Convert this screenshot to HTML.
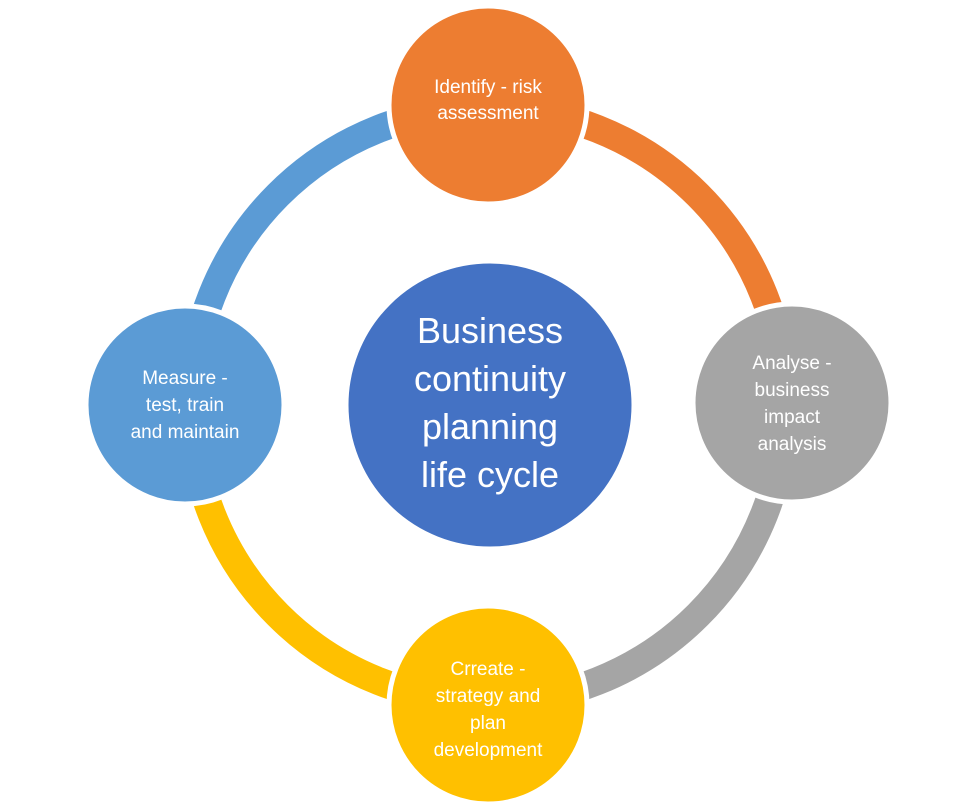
<!DOCTYPE html>
<html><head><meta charset="utf-8"><style>
html,body{margin:0;padding:0;background:#fff;}
svg{display:block}
text{font-family:"Liberation Sans",sans-serif;fill:#fff;text-anchor:middle}
</style></head><body>
<svg width="977" height="810" viewBox="0 0 977 810">
<g fill="none" stroke-width="28">
<path d="M488 108 A297 297 0 0 1 785 405" stroke="#ED7D31"/>
<path d="M785 405 A297 297 0 0 1 488 702" stroke="#A5A5A5"/>
<path d="M488 702 A297 297 0 0 1 191 405" stroke="#FFC000"/>
<path d="M191 405 A297 297 0 0 1 488 108" stroke="#5B9BD5"/>
</g>
<g stroke="#fff" stroke-width="5">
<circle cx="488" cy="105" r="99" fill="#ED7D31"/>
<circle cx="792" cy="403" r="99" fill="#A5A5A5"/>
<circle cx="488" cy="705" r="99" fill="#FFC000"/>
<circle cx="185" cy="405" r="99" fill="#5B9BD5"/>
<circle cx="490" cy="405" r="144" fill="#4472C4"/>
</g>
<g font-size="19">
<text x="488" y="93">Identify - risk</text>
<text x="488" y="119">assessment</text>
<text x="792" y="369">Analyse -</text>
<text x="792" y="396">business</text>
<text x="792" y="423">impact</text>
<text x="792" y="450">analysis</text>
<text x="488" y="675">Crreate -</text>
<text x="488" y="702">strategy and</text>
<text x="488" y="729">plan</text>
<text x="488" y="756">development</text>
<text x="185" y="384">Measure -</text>
<text x="185" y="411">test, train</text>
<text x="185" y="438">and maintain</text>
</g>
<g font-size="36">
<text x="490" y="343">Business</text>
<text x="490" y="391">continuity</text>
<text x="490" y="439">planning</text>
<text x="490" y="487">life cycle</text>
</g>
</svg>
</body></html>
